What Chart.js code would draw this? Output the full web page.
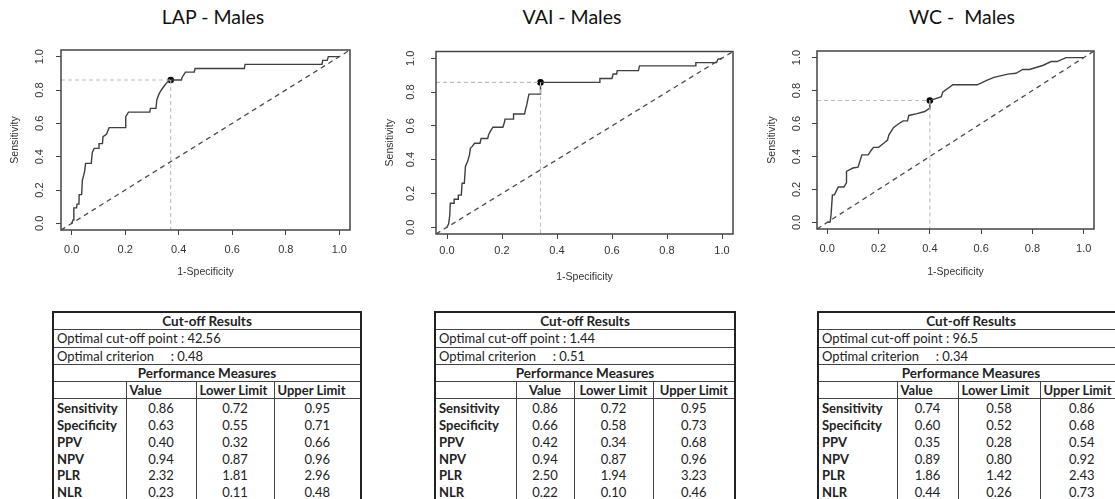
<!DOCTYPE html>
<html><head><meta charset="utf-8">
<script src="https://cdn.jsdelivr.net/npm/chart.js@4.4.0/dist/chart.umd.min.js"></script>
<style>
html,body{margin:0;padding:0;background:#fff;}
body{width:1115px;height:499px;position:relative;overflow:hidden;}
.panel{position:absolute;top:0;}
.ttl{position:absolute;top:5px;font-family:Lato,'Open Sans',sans-serif;font-size:19.5px;color:#111;white-space:pre;transform:translateX(-50%);}
table.res{position:absolute;border-collapse:collapse;table-layout:fixed;font-family:Lato,'Open Sans',sans-serif;font-size:13px;color:#222;border:2px solid #222;}
table.res td{padding:0 3px;white-space:pre;overflow:hidden;line-height:14px;}
table.res tr.top td{height:16.3px;border-bottom:1px solid #444;}
table.res tr.hd td{height:16.3px;border-bottom:1px solid #444;border-left:1px solid #444;font-weight:bold;}
table.res tr.dt td{height:16.9px;border-left:1px solid #444;text-align:center;}
table.res tr.dt td.lb{text-align:left;font-weight:bold;}
table.res .bh{font-weight:bold;font-size:13.5px;text-align:center;}
</style>
</head><body>
<div class="ttl" style="left:213px">LAP - Males</div>
<div class="ttl" style="left:572px">VAI - Males</div>
<div class="ttl" style="left:962px">WC -  Males</div>
<div class="panel" style="left:0px"><canvas id="c0" width="372" height="300"></canvas></div>
<div class="panel" style="left:372px"><canvas id="c1" width="372" height="300"></canvas></div>
<div class="panel" style="left:744px"><canvas id="c2" width="371" height="300"></canvas></div>
<div id="tables"></div>
<script>
// ---------- data ----------
const TICKS = [0, 0.2, 0.4, 0.6, 0.8, 1.0];
const AXIS_MIN = -0.04, AXIS_MAX = 1.04;

const LAP_FPR = [0,0.005,0.008,0.008,0.018,0.02,0.027,0.028,0.037,0.04,0.045,0.048,0.052,0.073,0.077,0.084,0.1,0.102,0.115,0.117,0.13,0.14,0.2,0.202,0.212,0.292,0.294,0.315,0.318,0.326,0.335,0.347,0.357,0.37,0.41,0.413,0.425,0.458,0.461,0.645,0.648,0.935,0.938,0.955,0.959,1];
const LAP_TPR = [0,0.02,0.02,0.093,0.093,0.115,0.115,0.172,0.172,0.26,0.29,0.31,0.36,0.36,0.426,0.45,0.45,0.478,0.478,0.52,0.534,0.574,0.574,0.64,0.667,0.667,0.69,0.69,0.74,0.775,0.8,0.827,0.847,0.86,0.86,0.877,0.907,0.907,0.929,0.929,0.954,0.954,0.978,0.978,1,1];
const LAP_CUT = [0.37, 0.86];

const VAI_FPR = [0,0.006,0.01,0.012,0.026,0.026,0.041,0.041,0.052,0.055,0.063,0.067,0.075,0.082,0.085,0.091,0.1,0.12,0.124,0.148,0.151,0.157,0.167,0.203,0.209,0.211,0.24,0.242,0.282,0.286,0.29,0.294,0.298,0.34,0.34,0.553,0.556,0.6,0.604,0.617,0.619,0.696,0.7,0.903,0.905,0.98,0.985,1];
const VAI_TPR = [0,0.02,0.07,0.142,0.142,0.166,0.166,0.19,0.19,0.26,0.26,0.36,0.39,0.43,0.467,0.477,0.497,0.497,0.525,0.525,0.546,0.566,0.592,0.592,0.621,0.64,0.64,0.67,0.67,0.7,0.724,0.757,0.788,0.788,0.857,0.857,0.88,0.88,0.907,0.907,0.927,0.927,0.955,0.955,0.974,0.974,0.994,1];
const VAI_CUT = [0.34, 0.857];

const WC_FPR = [0,0.01,0.012,0.015,0.02,0.028,0.035,0.043,0.065,0.075,0.075,0.09,0.1,0.12,0.135,0.16,0.17,0.18,0.2,0.22,0.235,0.24,0.258,0.28,0.296,0.313,0.318,0.35,0.38,0.396,0.4,0.4,0.42,0.445,0.45,0.49,0.585,0.626,0.65,0.704,0.736,0.762,0.788,0.84,0.873,0.896,0.931,1];
const WC_TPR = [0,0,0.01,0.05,0.167,0.167,0.19,0.215,0.215,0.24,0.31,0.322,0.33,0.335,0.41,0.41,0.435,0.455,0.455,0.48,0.5,0.53,0.575,0.6,0.616,0.616,0.649,0.66,0.673,0.69,0.69,0.74,0.75,0.763,0.79,0.835,0.835,0.865,0.88,0.9,0.905,0.928,0.928,0.952,0.976,0.976,1,1];
const WC_CUT = [0.40, 0.74];

const MEASURES = ['Sensitivity','Specificity','PPV','NPV','PLR','NLR'];
const COL_HEADERS = ['Value','Lower Limit','Upper Limit'];

const LAP_CUTOFF = '42.56', LAP_CRITERION = '0.48';
const LAP_VALUE = ['0.86','0.63','0.40','0.94','2.32','0.23'];
const LAP_LOWER = ['0.72','0.55','0.32','0.87','1.81','0.11'];
const LAP_UPPER = ['0.95','0.71','0.66','0.96','2.96','0.48'];

const VAI_CUTOFF = '1.44', VAI_CRITERION = '0.51';
const VAI_VALUE = ['0.86','0.66','0.42','0.94','2.50','0.22'];
const VAI_LOWER = ['0.72','0.58','0.34','0.87','1.94','0.10'];
const VAI_UPPER = ['0.95','0.73','0.68','0.96','3.23','0.46'];

const WC_CUTOFF = '96.5', WC_CRITERION = '0.34';
const WC_VALUE = ['0.74','0.60','0.35','0.89','1.86','0.44'];
const WC_LOWER = ['0.58','0.52','0.28','0.80','1.42','0.26'];
const WC_UPPER = ['0.86','0.68','0.54','0.92','2.43','0.73'];

// ---------- charts ----------
const boxPlugin = {
  id: 'rbox',
  afterDraw(c) {
    const a = c.chartArea, ctx = c.ctx;
    ctx.save();
    ctx.strokeStyle = '#444';
    ctx.lineWidth = 1.5;
    ctx.strokeRect(a.left, a.top, a.right - a.left, a.bottom - a.top);
    ctx.restore();
  }
};

function rocChart(id, fpr, tpr, cut, g) {
  const curve = fpr.map((x, i) => ({x: x, y: tpr[i]}));
  const guide = {showLine: true, borderColor: '#bdbdbd', borderWidth: 1.1, borderDash: [4, 3], pointRadius: 0, fill: false};
  new Chart(document.getElementById(id), {
    type: 'scatter',
    data: {datasets: [
      Object.assign({data: [{x: AXIS_MIN, y: cut[1]}, {x: cut[0], y: cut[1]}]}, guide),
      Object.assign({data: [{x: cut[0], y: cut[1]}, {x: cut[0], y: AXIS_MIN}]}, guide),
      {data: [{x: AXIS_MIN, y: AXIS_MIN}, {x: AXIS_MAX, y: AXIS_MAX}], showLine: true, borderColor: '#4a4a4a', borderWidth: 1.3, borderDash: [5, 4], pointRadius: 0},
      {data: curve, showLine: true, borderColor: '#3f3f3f', borderWidth: 1.4, pointRadius: 0, tension: 0},
      {data: [{x: cut[0], y: cut[1]}], pointRadius: 3.3, backgroundColor: '#000', borderColor: '#000', borderWidth: 0}
    ]},
    options: {
      responsive: false, animation: false, devicePixelRatio: 1,
      layout: {padding: {top: g.top, right: g.right, left: 0, bottom: 0}},
      plugins: {legend: {display: false}, tooltip: {enabled: false}},
      scales: {
        x: {
          type: 'linear', min: AXIS_MIN, max: AXIS_MAX,
          afterBuildTicks: s => { s.ticks = TICKS.map(v => ({value: v})); },
          afterFit: s => { s.height = g.xh; },
          grid: {drawOnChartArea: false, drawTicks: true, tickLength: 5, color: '#444'},
          border: {display: false},
          ticks: {padding: g.xpad, maxRotation: 0, minRotation: 0, autoSkip: false, callback: v => Number(v).toFixed(1), font: {family: 'Liberation Sans', size: 11}, color: '#333'},
          title: {display: true, text: '1-Specificity', font: {family: 'Liberation Sans', size: 10.5}, color: '#333', padding: {top: 0, bottom: g.xtpad}}
        },
        y: {
          type: 'linear', min: AXIS_MIN, max: AXIS_MAX,
          afterBuildTicks: s => { s.ticks = TICKS.map(v => ({value: v})); },
          afterFit: s => { s.width = g.yw; },
          grid: {drawOnChartArea: false, drawTicks: true, tickLength: 5, color: '#444'},
          border: {display: false},
          ticks: {padding: g.ypad, minRotation: 90, maxRotation: 90, crossAlign: 'center', autoSkip: false, callback: v => Number(v).toFixed(1), font: {family: 'Liberation Sans', size: 11}, color: '#333'},
          title: {display: true, text: 'Sensitivity', font: {family: 'Liberation Sans', size: 10.5}, color: '#333', padding: {top: g.ytpad, bottom: 0}}
        }
      }
    },
    plugins: [boxPlugin]
  });
}

rocChart('c0', LAP_FPR, LAP_TPR, LAP_CUT, {top: 50, right: 22, yw: 61, xh: 70, xpad: 8, ypad: 8.4, ytpad: 8.7, xtpad: 21.7});
rocChart('c1', VAI_FPR, VAI_TPR, VAI_CUT, {top: 51.5, right: 11, yw: 64, xh: 66, xpad: 5.4, ypad: 12.4, ytpad: 11.7, xtpad: 16.7});
rocChart('c2', WC_FPR, WC_TPR, WC_CUT, {top: 51, right: 21, yw: 73, xh: 71, xpad: 8.4, ypad: 7.4, ytpad: 21.7, xtpad: 21.7});

// ---------- tables ----------
function buildTable(left, top, cols, headAlign, cutoff, criterion, vals, lows, ups) {
  const t = document.createElement('table');
  t.className = 'res';
  t.style.left = left + 'px';
  t.style.top = top + 'px';
  const total = cols.reduce((a, b) => a + b, 0);
  t.style.width = total + 'px';
  let h = '<colgroup>' + cols.map(w => '<col style="width:' + w + 'px">').join('') + '</colgroup>';
  h += '<tr class="top"><td colspan="4" class="bh">Cut-off Results</td></tr>';
  h += '<tr class="top"><td colspan="4">Optimal cut-off point : ' + cutoff + '</td></tr>';
  h += '<tr class="top"><td colspan="4">Optimal criterion     : ' + criterion + '</td></tr>';
  h += '<tr class="top"><td colspan="4" class="bh">Performance Measures</td></tr>';
  h += '<tr class="hd"><td style="border-left:none"></td>' + COL_HEADERS.map(c => '<td style="text-align:' + headAlign + '">' + c + '</td>').join('') + '</tr>';
  MEASURES.forEach((m, i) => {
    h += '<tr class="dt"><td class="lb" style="border-left:none">' + m + '</td><td>' + vals[i] + '</td><td>' + lows[i] + '</td><td>' + ups[i] + '</td></tr>';
  });
  t.innerHTML = h;
  document.getElementById('tables').appendChild(t);
}
buildTable(52, 311, [73, 70, 78, 87], 'left', LAP_CUTOFF, LAP_CRITERION, LAP_VALUE, LAP_LOWER, LAP_UPPER);
buildTable(434, 311, [81, 58, 79, 82], 'center', VAI_CUTOFF, VAI_CRITERION, VAI_VALUE, VAI_LOWER, VAI_UPPER);
buildTable(817, 311, [79, 61, 82, 84], 'left', WC_CUTOFF, WC_CRITERION, WC_VALUE, WC_LOWER, WC_UPPER);
</script>
</body></html>
